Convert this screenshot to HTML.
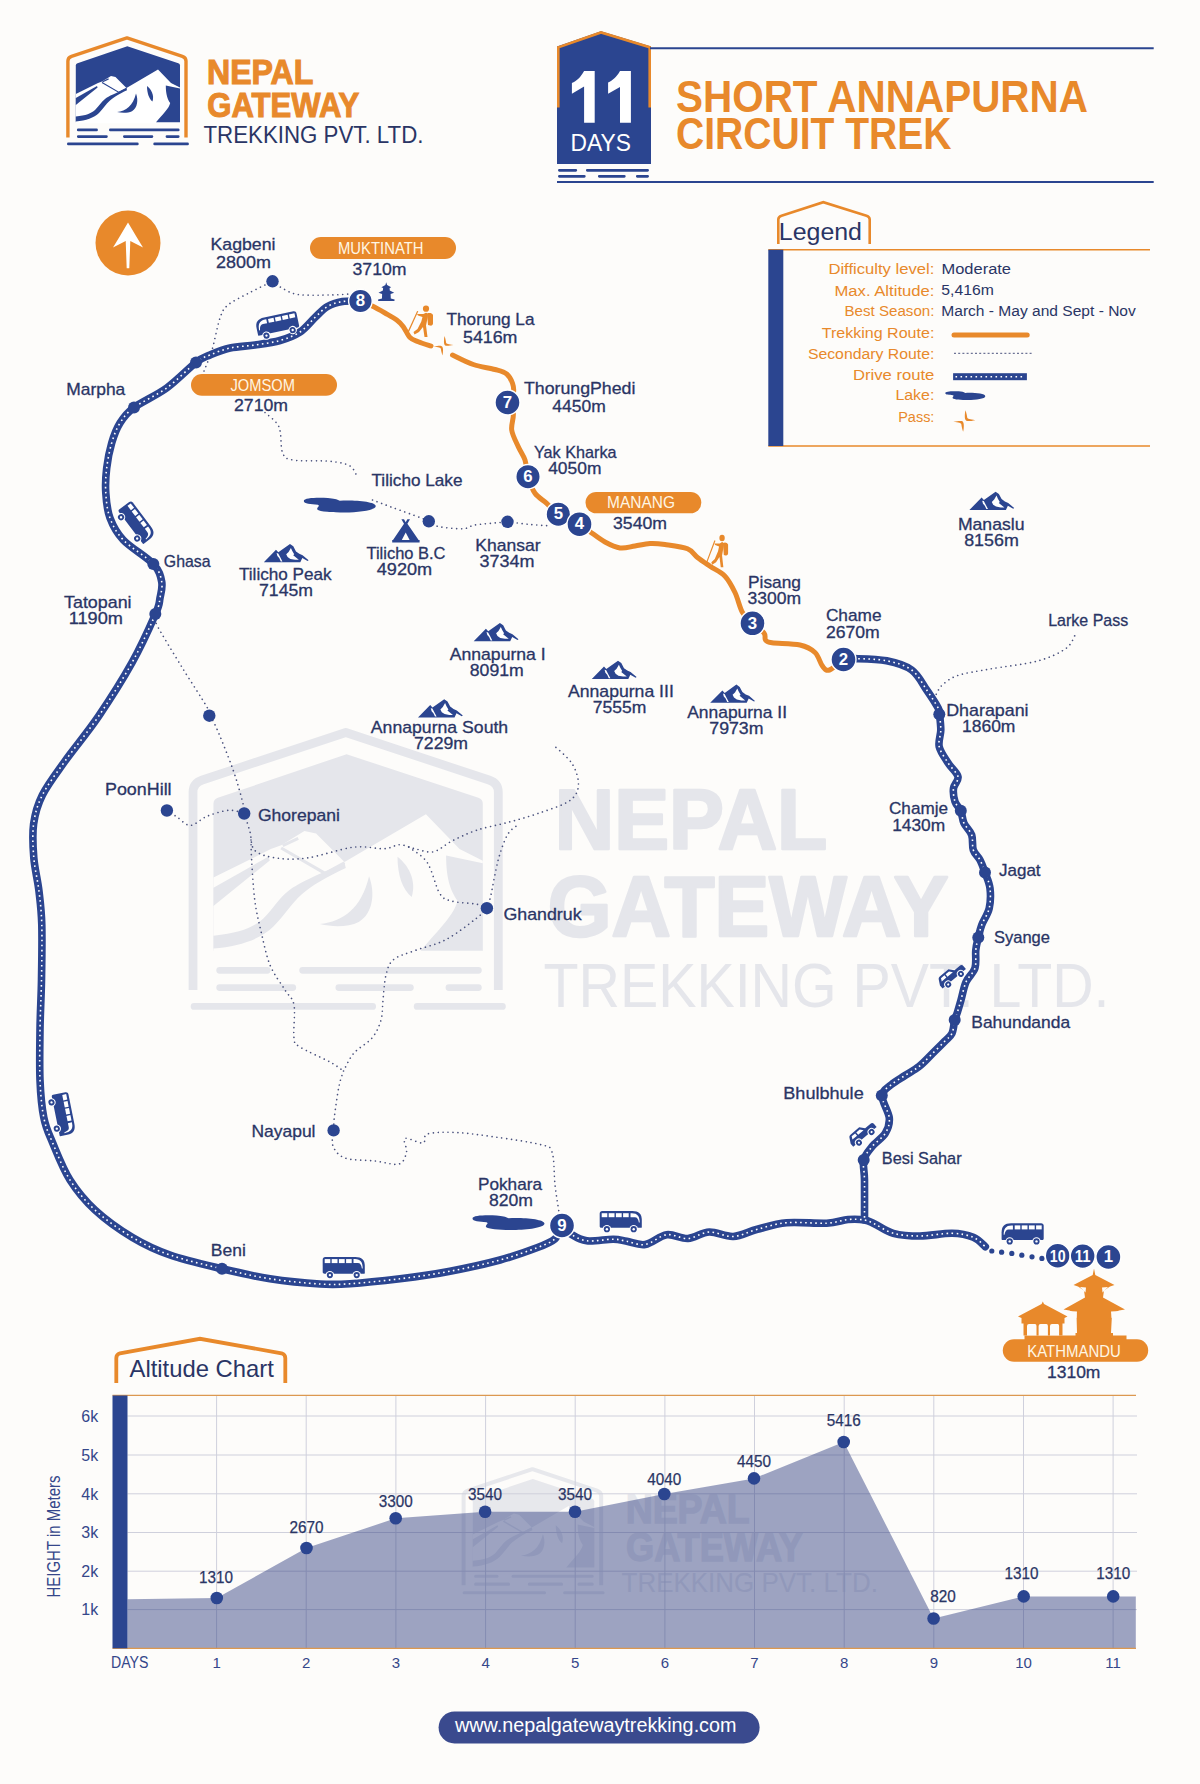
<!DOCTYPE html>
<html><head><meta charset="utf-8"><title>Short Annapurna Circuit Trek</title>
<style>html,body{margin:0;padding:0;background:#fdfcfa;}svg{display:block;}text{font-family:"Liberation Sans",sans-serif;}</style>
</head><body>
<svg width="1200" height="1784" viewBox="0 0 1200 1784" font-family="Liberation Sans, sans-serif">
<defs>

<g id="logoG">
 <path d="M67.9,137.5 V61 Q67.9,57.5 71.5,56.3 L127,37.9 L182.4,56.3 Q186,57.5 186,61 V137.5" fill="none" stroke="#e8892b" stroke-width="3.4" stroke-linejoin="round"/>
 <path d="M75.8,122.3 V65.5 Q75.8,63.8 77.5,63.2 L127.3,46.3 L178.3,63.2 Q180,63.8 180,65.5 V122.3 Z" fill="#2b4590"/>
 <path d="M75.8,94 L98,83 L102,81.5 L111,76 L115.5,77 L126.5,88 L158,69.5 L171,83 L180,87.5 V123.2 H75.8 Z" fill="#ffffff"/>
 <path d="M75.8,116.5 C86,115.5 91,113.5 95,110 C99,106 101,102 105,99 C109,96 115,93.5 126.5,88.3 L127,90.3 C119,94 114,97 110,100.5 C106,104 103,109 99,113 C94,118 86,120.5 75.8,121.5 Z" fill="#2b4590"/>
 <path d="M75.8,98 L97,86 L97.6,87.4 L75.8,105 Z" fill="#2b4590"/>
 <path d="M102,82.6 L119,92.4 L126.5,88.3 M102.6,81.7 L108.6,78.9" fill="none" stroke="#2b4590" stroke-width="1.2"/>
 <path d="M117,112 C126,111 133,106 136,93.5 C138.5,100 137.5,108 132,111.2 C128,113.2 122,113.2 117,112 Z" fill="#2b4590"/>
 <path d="M147,86 C151,89 154.5,95 152.5,101.5 C149,99 147,93 147,86 Z" fill="#2b4590"/>
 <path d="M165.8,85.5 L180,88.5 V122.3 H156 C163,114 169,108.5 170.2,103 C167.8,99.5 165.8,95 165.8,85.5 Z" fill="#2b4590"/>
 <g stroke="#2b4590" stroke-width="2.6" stroke-linecap="round">
  <path d="M78.2,129.9 H96.6 M110.3,129.9 H178.3 M78.2,136.6 H106.5 M124.3,136.6 H152 M166.9,136.6 H178.3 M68.3,143.9 H137.4 M154.6,143.9 H187.6"/>
 </g>
</g>

<g id="logoW">
<g id="logoWi">
 <path d="M67.9,137.5 V61 Q67.9,57.5 71.5,56.3 L127,37.9 L182.4,56.3 Q186,57.5 186,61 V137.5" fill="none" stroke="#e5e6eb" stroke-width="3.4" stroke-linejoin="round"/>
 <path d="M75.8,122.3 V65.5 Q75.8,63.8 77.5,63.2 L127.3,46.3 L178.3,63.2 Q180,63.8 180,65.5 V122.3 Z" fill="#e5e6eb"/>
 <path d="M75.8,94 L98,83 L102,81.5 L111,76 L115.5,77 L126.5,88 L158,69.5 L171,83 L180,87.5 V123.2 H75.8 Z" fill="#fdfcfa"/>
 <path d="M75.8,116.5 C86,115.5 91,113.5 95,110 C99,106 101,102 105,99 C109,96 115,93.5 126.5,88.3 L127,90.3 C119,94 114,97 110,100.5 C106,104 103,109 99,113 C94,118 86,120.5 75.8,121.5 Z" fill="#e5e6eb"/>
 <path d="M75.8,98 L97,86 L97.6,87.4 L75.8,105 Z" fill="#e5e6eb"/>
 <path d="M102,82.6 L119,92.4 L126.5,88.3 M102.6,81.7 L108.6,78.9" fill="none" stroke="#e5e6eb" stroke-width="1.2"/>
 <path d="M117,112 C126,111 133,106 136,93.5 C138.5,100 137.5,108 132,111.2 C128,113.2 122,113.2 117,112 Z" fill="#e5e6eb"/>
 <path d="M147,86 C151,89 154.5,95 152.5,101.5 C149,99 147,93 147,86 Z" fill="#e5e6eb"/>
 <path d="M165.8,85.5 L180,88.5 V122.3 H156 C163,114 169,108.5 170.2,103 C167.8,99.5 165.8,95 165.8,85.5 Z" fill="#e5e6eb"/>
 <g stroke="#e5e6eb" stroke-width="2.6" stroke-linecap="round">
  <path d="M78.2,129.9 H96.6 M110.3,129.9 H178.3 M78.2,136.6 H106.5 M124.3,136.6 H152 M166.9,136.6 H178.3 M68.3,143.9 H137.4 M154.6,143.9 H187.6"/>
 </g>
</g>
</g>

<g id="bus">
 <path d="M0.5,16.8 V9.5 C0.5,3.2 3.5,0.4 10,0.4 H40 C41.6,0.4 42.6,1.4 42.6,3 V15.6 C42.6,16.6 41.8,17.2 40.8,17.2 H1 Z" fill="#2b4590"/>
 <path d="M2.6,12 C2.6,6 4.5,2.6 10.5,2.6 H11.8 V6.6 H7.5 C5,6.6 4,8.5 3.4,12 Z" fill="#fff"/>
 <rect x="13.6" y="2.6" width="5.6" height="4" fill="#fff"/>
 <rect x="20.6" y="2.6" width="5.8" height="4" fill="#fff"/>
 <rect x="27.8" y="2.6" width="5.8" height="4" fill="#fff"/>
 <rect x="35" y="2.6" width="5.6" height="4" fill="#fff"/>
 <circle cx="8.6" cy="18.6" r="4.2" fill="#fff"/>
 <circle cx="35.4" cy="18.6" r="4.2" fill="#fff"/>
 <circle cx="8.6" cy="18.6" r="3.1" fill="#2b4590"/>
 <circle cx="35.4" cy="18.6" r="3.1" fill="#2b4590"/>
 <circle cx="8.6" cy="18.6" r="1.2" fill="#fff"/>
 <circle cx="35.4" cy="18.6" r="1.2" fill="#fff"/>
</g>
<g id="jeep">
 <path d="M0,9 L3,3.5 C3.5,2.5 4.5,2 6,2 H17 L21,6.5 H28 C29.5,6.5 30.5,7.5 30.5,9 V13 H0 Z" fill="#2b4590"/>
 <path d="M4,7 L5.5,4 H10 V7 Z M11.5,4 H16 L18.5,7 H11.5 Z" fill="#fff"/>
 <circle cx="7" cy="13.5" r="4" fill="#fff"/>
 <circle cx="23.5" cy="13.5" r="4" fill="#fff"/>
 <circle cx="7" cy="13.5" r="3" fill="#2b4590"/>
 <circle cx="23.5" cy="13.5" r="3" fill="#2b4590"/>
 <circle cx="7" cy="13.5" r="1.1" fill="#fff"/>
 <circle cx="23.5" cy="13.5" r="1.1" fill="#fff"/>
</g>
<g id="mtn">
 <path d="M0,18.4 L12.2,6 L14.5,8.5 L26.2,0.2 L29.5,2.5 L32.2,7.6 L35.5,10 L38.8,11.4 L44.8,16.5 L43.8,17.2 L38.5,14.2 L36.5,18.4 Z" fill="#2b4590"/>
 <path d="M27.1,4.1 L28.5,7.2 L30.4,10.4 L29.4,11.4 L35,16 L31.3,16 L26.6,15.1 L23.8,13.2 L22.4,10.4 L24.8,8.1 Z" fill="#fff"/>
 <path d="M12.8,9.2 L14.4,9.6 L16.6,13.8 L18.6,17.6 L17,17.6 L15.4,14.2 L13.6,12.2 Z" fill="#fff"/>
</g>
<g id="lake">
 <path d="M0,3.5 C0,0.3 14,0 24,0.6 C30,1 33,2 36,3.2 C50,2.4 72,4 72,8.6 C72,12.8 55,15 41,15 C29,15 15.5,14.2 13.5,12 C12.5,9.5 17,8.5 14,7.2 C7,6.5 0,6.5 0,3.5 Z" fill="#2b4590"/>
</g>
<g id="hiker">
 <circle cx="19.5" cy="3.2" r="3.1"/>
 <path d="M20.5,8 C23,7 25.5,7.5 26.5,9.5 L26.5,18 C26.5,19.5 25,20.5 23.5,20 L21.5,19.5 Z"/>
 <path d="M19.5,7.2 C21.8,7.6 21.6,10.5 21,13 L19.5,20 L21,31.5 L18,31.5 L16.5,21.5 L12.5,26.5 L8,29 L7,26.5 L11,23.5 L14.8,16 L16,11.5 L11.5,10 L10.5,8.6 L16.8,8.6 Z"/>
 <path d="M10.6,5.5 L11.8,5.8 L2.2,27 L1,26.5 Z"/>
</g>

</defs>
<rect width="1200" height="1784" fill="#fdfcfa"/>
<use href="#logoG"/>
 <text x="207" y="83.9" font-size="34.4" font-weight="bold" fill="#e8892b" stroke="#e8892b" stroke-width="1.1" textLength="106.4" lengthAdjust="spacingAndGlyphs">NEPAL</text>
 <text x="207.3" y="117.1" font-size="34.4" font-weight="bold" fill="#e8892b" stroke="#e8892b" stroke-width="1.1" textLength="151.9" lengthAdjust="spacingAndGlyphs">GATEWAY</text>
 <text x="203.5" y="143.2" font-size="23" fill="#2a3565" textLength="220" lengthAdjust="spacingAndGlyphs">TREKKING PVT. LTD.</text>

<g transform="translate(17.5,634.5) scale(2.585)"><use href="#logoWi"/></g>
<text x="554.8" y="848.7" font-size="84.5" font-weight="bold" fill="#e5e6eb" textLength="272.5" lengthAdjust="spacingAndGlyphs" stroke="#e5e6eb" stroke-width="2.6" stroke-linejoin="round">NEPAL</text>
<text x="547.8" y="935.6" font-size="84.5" font-weight="bold" fill="#e5e6eb" textLength="400.5" lengthAdjust="spacingAndGlyphs" stroke="#e5e6eb" stroke-width="2.6" stroke-linejoin="round">GATEWAY</text>
<text x="543.5" y="1006.8" font-size="63.3" fill="#e5e6eb" textLength="566" lengthAdjust="spacingAndGlyphs">TREKKING PVT. LTD.</text>
<path d="M557,164 V46.5 L601,31.2 L651,46.5 V164 Z" fill="#2b4590"/>
<path d="M558.3,107.5 V47.3 L601,32.4 L649.7,47.3 V107.5" fill="none" stroke="#e8892b" stroke-width="2.6"/>
<g stroke="#2b4590" stroke-width="2.8" stroke-linecap="round"><path d="M559.4,170.3 H575.8 M587.3,170.3 H647.6 M559.4,176.3 H584.3 M599.3,176.3 H624.3 M637.3,176.3 H647.6"/></g>
<path d="M650,48.3 H1153.7 M557,182 H1153.7" stroke="#2b4590" stroke-width="2"/>
<path d="M584.1,70.9 H594.7 V122.8 H584.1 V86.6 L571.9,93.8 V83.1 C576.5,80.7 580.5,77.5 584.1,70.9 Z M620,70.9 H630.9 V122.8 H620 V86.9 L608.1,93.8 V82.5 C612.6,80.2 616.6,77 620,70.9 Z" fill="#fff"/>
<text x="570.6" y="150.6" font-size="23.5" fill="#ffffff" textLength="60.4" lengthAdjust="spacingAndGlyphs">DAYS</text>
<text x="676" y="111.9" font-size="43.8" font-weight="bold" fill="#e8892b" textLength="412" lengthAdjust="spacingAndGlyphs">SHORT ANNAPURNA</text>
<text x="676" y="149.2" font-size="43.8" font-weight="bold" fill="#e8892b" textLength="275.5" lengthAdjust="spacingAndGlyphs">CIRCUIT TREK</text>
<path d="M778.3,244 V219.5 Q778.3,216.8 781.5,215.8 L823.3,202.2 L866.5,215.8 Q869.7,216.8 869.7,219.5 V244" fill="none" stroke="#e8892b" stroke-width="2.6"/>
<text x="778.8" y="239.7" font-size="23.3" fill="#2a3565" textLength="83.2" lengthAdjust="spacingAndGlyphs">Legend</text>
<path d="M768.3,249.7 H1150 M768.3,446 H1150" stroke="#e8892b" stroke-width="1.6"/>
<rect x="768.3" y="249.7" width="15" height="196.3" fill="#2b4590"/>
<text x="828.4" y="274.2" font-size="15.5" fill="#e8892b" textLength="106" lengthAdjust="spacingAndGlyphs">Difficulty level:</text>
<text x="834.5" y="295.5" font-size="15.5" fill="#e8892b" textLength="99.9" lengthAdjust="spacingAndGlyphs">Max. Altitude:</text>
<text x="844.5" y="316" font-size="15.5" fill="#e8892b" textLength="89.9" lengthAdjust="spacingAndGlyphs">Best Season:</text>
<text x="821.7" y="337.5" font-size="15.5" fill="#e8892b" textLength="112.7" lengthAdjust="spacingAndGlyphs">Trekking Route:</text>
<text x="807.9" y="358.5" font-size="15.5" fill="#e8892b" textLength="126.5" lengthAdjust="spacingAndGlyphs">Secondary Route:</text>
<text x="852.9" y="379.5" font-size="15.5" fill="#e8892b" textLength="81.5" lengthAdjust="spacingAndGlyphs">Drive route</text>
<text x="895.4" y="400" font-size="15.5" fill="#e8892b" textLength="39" lengthAdjust="spacingAndGlyphs">Lake:</text>
<text x="898.2" y="422.2" font-size="15.5" fill="#e8892b" textLength="36.2" lengthAdjust="spacingAndGlyphs">Pass:</text>
<text x="941.5" y="274.4" font-size="15.5" fill="#2a3565" textLength="69.5" lengthAdjust="spacingAndGlyphs">Moderate</text>
<text x="941.3" y="295.3" font-size="15.5" fill="#2a3565" textLength="52.5" lengthAdjust="spacingAndGlyphs">5,416m</text>
<text x="941.3" y="316" font-size="15.5" fill="#2a3565" textLength="194.5" lengthAdjust="spacingAndGlyphs">March - May and Sept - Nov</text>
<path d="M954,335.1 H1027.2" stroke="#e8892b" stroke-width="5" stroke-linecap="round"/>
<path d="M954,353.3 H1032" stroke="#4a527e" stroke-width="1" stroke-dasharray="2 2.2"/>
<rect x="953.1" y="373.2" width="73.8" height="7" fill="#2b4590"/>
<path d="M955.5,376.7 H1025" stroke="#fff" stroke-width="1.5" stroke-dasharray="1.6 3.4"/>
<g transform="translate(945.2,391) scale(0.557,0.6)"><use href="#lake"/></g>
<g transform="translate(964.3,421) scale(1)" fill="#e8892b"><path d="M1.2,-10.8 C2.2,-7.5 2.8,-5 2.9,-3.4 C3.3,-2 5.5,-1.6 11,-0.8 C7,0 4,0.3 2.5,-0.1 C0.9,-0.6 0.5,-2.5 0.5,-4.5 C0.5,-7 0.7,-9 1.2,-10.8 Z"/><path d="M-1.2,10.8 C-2.2,7.5 -2.8,5 -2.9,3.4 C-3.3,2 -5.5,1.6 -11,0.8 C-7,0 -4,-0.3 -2.5,0.1 C-0.9,0.6 -0.5,2.5 -0.5,4.5 C-0.5,7 -0.7,9 -1.2,10.8 Z"/></g>
<circle cx="128" cy="243" r="32.5" fill="#e8892b"/>
<path d="M128,222.5 L136,236 L143,247.5 L130.3,241 L129.3,268.3 H126.7 L125.7,241 L113,247.5 L120,236 Z" fill="#fff"/>
<g fill="none" stroke="#4a527e" stroke-width="1.65" stroke-linecap="round" stroke-dasharray="0.01 4.9">
<path d="M204,371 C205.3,367.5 209.3,358.8 212,350 C214.7,341.2 217.3,325.5 220,318 C222.7,310.5 223,309.2 228,305 C233,300.8 242.6,296.4 250,292.5 C257.4,288.6 268.8,283.2 272.5,281.3"/>
<path d="M272.5,281.3 C274.1,282.4 277.8,285.8 282,288 C286.2,290.2 290,293.3 298,294.5 C306,295.7 321.5,295.1 330,295 C338.5,294.9 345.8,294.2 349,294"/>
<path d="M265,412.5 C267.3,414.9 276.1,420.3 279,427 C281.9,433.7 280.2,447 282.5,452.5 C284.8,458 285.1,458.5 293,460 C300.9,461.5 320.5,460.3 330,461.3 C339.5,462.3 345.4,463.3 350,466 C354.6,468.7 356.2,475.6 357.5,477.5"/>
<path d="M372.5,500 C375.8,501.2 384.6,504.6 392.5,507.5 C400.4,510.4 413.9,515.2 420,517.5 C426.1,519.8 427.3,520.7 428.8,521.3"/>
<path d="M428.8,521.3 C430.2,522.1 431.9,525 437.5,526.3 C443.1,527.5 456.2,529 462.5,528.8 C468.8,528.6 468.8,526 475,525 C481.2,524 494.6,523 500,522.5 C505.4,522 506.2,521.9 507.5,521.8"/>
<path d="M507.5,521.8 C511.2,522.2 522.9,523.8 530,524.5 C537.1,525.2 546.7,525.6 550,525.8"/>
<path d="M155.1,614.3 C155.4,616.1 152.5,616.4 157,625.2 C161.5,634 173.6,653.5 182,667.3 C190.4,681 202.8,699.6 207.3,707.7 C211.9,715.8 207.9,712.6 209.3,715.7 C210.7,718.8 211.8,717.5 215.7,726.2 C219.6,735 228,755.6 232.5,768.2 C237,780.8 240.6,794.2 242.6,801.8 C244.6,809.4 244,811.6 244.3,813.6"/>
<path d="M166.9,810.3 C168.6,811.4 173.1,814.5 177,817 C180.9,819.5 185.4,825.5 190.5,825.4 C195.6,825.2 200.9,818.6 207.3,816.1 C213.7,813.6 222.9,810.7 229.1,810.3 C235.3,809.9 241.8,813 244.3,813.6"/>
<path d="M244.3,813.6 C245.2,816.6 248.3,825.7 250,831.8 C251.7,837.9 250.3,845.9 254.7,850.3 C259.1,854.7 267.6,856.7 276.3,858 C285,859.3 294.2,859.8 307,858 C319.8,856.2 340.4,848.8 353.3,847.2 C366.2,845.7 376.5,849.1 384.2,848.7 C391.9,848.3 394.5,844.7 399.6,844.7 C404.7,844.7 409.4,847.5 415,848.7 C420.6,849.9 427.3,853.1 433.5,851.8 C439.7,850.5 444.8,844.6 452,841 C459.2,837.4 467.4,833.3 476.7,830.2 C485.9,827.1 497.2,825.3 507.5,822.5 C517.8,819.7 528.1,816.9 538.4,813.3 C548.7,809.7 562.5,805.6 569.2,801 C575.9,796.4 577.9,791.7 578.4,785.5 C578.9,779.3 576.4,770.7 572.3,764 C568.2,757.3 556.9,748.5 553.8,745.4"/>
<path d="M408.8,847.2 C411.9,849.8 422.2,854.9 427.3,862.6 C432.4,870.3 435.6,887 439.7,893.4 C443.8,899.8 445.8,899.3 452,901.1 C458.2,902.9 470.9,903 476.7,904.2 C482.5,905.4 485.2,907.5 486.9,908.2"/>
<path d="M486.9,908.2 C487.5,906.2 488.7,904.6 490.6,896.5 C492.5,888.4 495.5,869.8 498.3,859.5 C501.1,849.2 504.4,840.4 507.5,834.8 C510.6,829.1 515.2,827.1 516.8,825.6"/>
<path d="M486.9,908.2 C485.2,909.9 483.5,912.9 476.7,918.1 C469.9,923.4 456.1,934.3 445.8,939.7 C435.5,945.1 423.7,947.2 415,950.5 C406.3,953.8 398.2,955.6 393.4,959.7 C388.6,963.8 387.7,968.3 386,975 C384.3,981.7 383.8,992.5 383,1000 C382.2,1007.5 382.8,1013.7 381,1020 C379.2,1026.3 376.5,1032.5 372,1038 C367.5,1043.5 358.8,1047.5 354,1053 C349.2,1058.5 345.2,1068 343.5,1071"/>
<path d="M251,840 C251.1,843.2 251,849.6 251.6,859.5 C252.2,869.4 253.2,887.8 254.7,899.6 C256.2,911.4 258.2,919.5 260.8,930.4 C263.4,941.3 266,955.1 270,965 C274,974.9 281,983.3 285,990 C289,996.7 292.5,997 294,1005 C295.5,1013 293,1031 294,1038 C295,1045 294,1043 300,1047 C306,1051 322.8,1058 330,1062 C337.2,1066 341.2,1069.5 343.5,1071"/>
<path d="M343.5,1071 C342.8,1073.5 340.5,1078.5 339,1086 C337.5,1093.5 335.4,1108.6 334.5,1116 C333.6,1123.4 333.8,1128 333.6,1130.4"/>
<path d="M333.6,1130.4 C333.5,1133 331.1,1141.4 333,1146 C334.9,1150.6 338,1155.5 345,1158 C352,1160.5 366,1160 375,1161 C384,1162 393.8,1165.5 399,1164 C404.2,1162.5 405.5,1156.2 406.5,1152 C407.5,1147.8 402.2,1140 405,1138.5 C407.8,1137 419.2,1143.8 423,1143 C426.8,1142.2 422,1135.8 427.5,1134 C433,1132.2 444.8,1132 456,1132.5 C467.2,1133 481,1135 495,1137 C509,1139 530.5,1142 540,1144.5 C549.5,1147 549.5,1145.2 552,1152 C554.5,1158.8 553.9,1175.2 555,1185 C556.1,1194.8 558.2,1206.7 558.8,1211"/>
<path d="M936.2,694.3 C937.2,692.7 938.8,688 942.5,684.8 C946.2,681.6 950.4,677.9 958.3,675.3 C966.2,672.7 976.8,671.4 990,669 C1003.2,666.6 1024.8,664.4 1037.5,661 C1050.2,657.6 1059.7,652.9 1066,648.4 C1072.3,643.9 1073.9,636.6 1075.5,634.2"/>
</g>
<g fill="none" stroke-linecap="round" stroke-linejoin="round">
<path d="M360.4,301 C357.4,301.1 348,300.6 342.5,301.5 C337,302.4 332.1,303.8 327.5,306.5 C322.9,309.2 319.6,313.2 315,317.5 C310.4,321.8 305.8,328.2 300,332 C294.2,335.8 287.5,338.3 280,340.5 C272.5,342.7 263.3,343.8 255,345 C246.7,346.2 237.5,346.3 230,348 C222.5,349.7 215.7,352.6 210,355 C204.3,357.4 203.2,357 196,362.5 C188.8,368 177,380.5 166.7,388 C156.4,395.5 141.8,401.7 134,407.5 C126.2,413.3 123.7,417.1 120,423 C116.3,428.9 113.9,435.5 111.7,443 C109.5,450.5 107.7,459.7 106.7,468 C105.7,476.3 105.2,484.7 105.8,493 C106.3,501.3 107.1,510.2 110,518 C112.9,525.8 116.1,532.3 123.3,540 C130.5,547.7 146.9,557 153.3,564 C159.7,571 160.6,576 161.7,581.7 C162.8,587.4 161,592.6 160,598 C159,603.4 160.2,603.2 155.5,614 C150.8,624.8 141.5,645.6 132,662.7 C122.5,679.8 109.6,700 98.4,716.5 C87.2,733 74.1,748.3 64.8,761.4 C55.5,774.5 47.6,784.6 42.4,795 C37.2,805.4 35,813.5 33.6,824 C32.2,834.5 32.9,846.5 33.8,857.7 C34.7,868.9 37.7,880.1 39,891.3 C40.3,902.5 41.4,910.2 41.8,925 C42.2,939.8 41.8,962.5 41.5,980 C41.2,997.5 40.2,1013.3 40,1030 C39.8,1046.7 39.4,1065.4 40,1080 C40.6,1094.6 41.7,1107.1 43.8,1117.5 C45.8,1127.9 48.1,1132.1 52.5,1142.5 C56.9,1152.9 62.9,1168.8 70,1180 C77.1,1191.2 84.6,1200.4 95,1210 C105.4,1219.6 120,1230 132.5,1237.5 C145,1245 155.1,1249.8 170,1255 C184.9,1260.2 205.3,1264.8 222,1268.8 C238.7,1272.7 253.7,1276.2 270,1278.8 C286.3,1281.3 306.7,1283.2 320,1284 C333.3,1284.8 336.7,1284.6 350,1283.8 C363.3,1282.9 383.3,1280.8 400,1278.8 C416.7,1276.7 433.3,1274.4 450,1271.2 C466.7,1268.1 485.4,1264 500,1260 C514.6,1256 528.3,1251 537.5,1247.5 C546.7,1244 550.9,1242.4 555,1238.8 C559.1,1235.1 560.8,1227.7 562,1225.5" stroke="#2b4590" stroke-width="7.6"/>
<path d="M562,1225.5 C563.5,1226.9 566.6,1231.5 570.7,1234 C574.8,1236.5 579.6,1239.9 586.7,1240.8 C593.8,1241.7 606.6,1239.1 613.3,1239.2 C620,1239.3 621.4,1240.4 626.7,1241.3 C632,1242.2 638.6,1245.6 645.3,1244.5 C652,1243.4 659.6,1235.7 666.7,1234.7 C673.8,1233.7 680.9,1239 688,1238.5 C695.1,1238 701.8,1232.3 709.3,1232 C716.8,1231.7 725.3,1237 733.3,1236.5 C741.3,1236 748.4,1231.6 757.3,1229.3 C766.2,1227 775.1,1223.7 786.7,1222.7 C798.3,1221.7 816.5,1223.7 826.7,1223.2 C836.9,1222.7 841.7,1220 848,1219.5 C854.3,1219 860,1219.2 864.5,1220 C869,1220.8 869.9,1221.8 874.7,1224 C879.5,1226.2 885.8,1231.3 893.3,1233.3 C900.8,1235.3 910.2,1236 920,1236 C929.8,1236 943.1,1233.1 952,1233.3 C960.9,1233.5 967.8,1235.1 973.3,1237.3 C978.8,1239.5 983.3,1245.1 985.3,1246.7" stroke="#2b4590" stroke-width="7.6"/>
<path d="M843.5,659.5 C845.4,659.4 847.8,658.4 855,658.6 C862.2,658.8 877.2,658.9 886.7,660.8 C896.2,662.7 905,665.1 911.7,670 C918.4,674.9 922.3,683.6 926.7,690 C931.1,696.4 936.2,704.3 938.3,708.3 C940.4,712.3 939.1,710.6 939.5,714.2 C939.9,717.8 940.8,724.6 940.8,730 C940.8,735.4 938,741.2 939.2,746.7 C940.5,752.2 945.2,758.3 948.3,763.3 C951.4,768.3 957.1,772.5 958,776.7 C958.9,780.9 954,784.1 953.5,788.3 C953,792.5 953.8,798 955,801.7 C956.2,805.5 959.3,807.2 960.8,810.8 C962.3,814.4 962.2,819.3 964,823.3 C965.8,827.3 970.2,830.5 971.7,835 C973.2,839.5 971.9,845.8 973.3,850 C974.7,854.2 978,856.2 980,860 C982,863.8 983.3,867.8 985,872.5 C986.7,877.2 989.3,882.3 990,888.3 C990.7,894.3 990.6,902.2 989.2,908.3 C987.8,914.4 983.5,920.1 981.7,925 C979.9,929.9 979.3,933.3 978.3,937.5 C977.3,941.7 976.3,944.9 975.8,950 C975.2,955.1 976.6,962.7 975,968 C973.4,973.3 968.3,976.7 966,982 C963.7,987.3 962.4,995 961,1000 C959.6,1005 958.5,1008.7 957.5,1012 C956.5,1015.3 955.6,1016.5 954.7,1020 C953.8,1023.5 953.7,1029.7 952,1033.3 C950.3,1036.9 948,1037.9 944.5,1041.5 C941,1045.1 935.2,1050.8 931,1055 C926.8,1059.2 923.3,1063.1 919,1066.5 C914.7,1069.9 909.6,1072.5 905,1075.5 C900.4,1078.5 895.3,1081.2 891.5,1084.5 C887.7,1087.8 882.4,1089.9 882,1095.5 C881.6,1101.1 888.8,1111.7 889.3,1118 C889.8,1124.3 888.2,1128.5 885.3,1133.3 C882.4,1138.1 875.6,1142.2 872,1146.7 C868.4,1151.2 865,1154.5 863.8,1160 C862.5,1165.5 864.4,1170 864.5,1180 C864.6,1190 864.5,1213.3 864.5,1220" stroke="#2b4590" stroke-width="7.6"/>
<path d="M360.4,301 C357.4,301.1 348,300.6 342.5,301.5 C337,302.4 332.1,303.8 327.5,306.5 C322.9,309.2 319.6,313.2 315,317.5 C310.4,321.8 305.8,328.2 300,332 C294.2,335.8 287.5,338.3 280,340.5 C272.5,342.7 263.3,343.8 255,345 C246.7,346.2 237.5,346.3 230,348 C222.5,349.7 215.7,352.6 210,355 C204.3,357.4 203.2,357 196,362.5 C188.8,368 177,380.5 166.7,388 C156.4,395.5 141.8,401.7 134,407.5 C126.2,413.3 123.7,417.1 120,423 C116.3,428.9 113.9,435.5 111.7,443 C109.5,450.5 107.7,459.7 106.7,468 C105.7,476.3 105.2,484.7 105.8,493 C106.3,501.3 107.1,510.2 110,518 C112.9,525.8 116.1,532.3 123.3,540 C130.5,547.7 146.9,557 153.3,564 C159.7,571 160.6,576 161.7,581.7 C162.8,587.4 161,592.6 160,598 C159,603.4 160.2,603.2 155.5,614 C150.8,624.8 141.5,645.6 132,662.7 C122.5,679.8 109.6,700 98.4,716.5 C87.2,733 74.1,748.3 64.8,761.4 C55.5,774.5 47.6,784.6 42.4,795 C37.2,805.4 35,813.5 33.6,824 C32.2,834.5 32.9,846.5 33.8,857.7 C34.7,868.9 37.7,880.1 39,891.3 C40.3,902.5 41.4,910.2 41.8,925 C42.2,939.8 41.8,962.5 41.5,980 C41.2,997.5 40.2,1013.3 40,1030 C39.8,1046.7 39.4,1065.4 40,1080 C40.6,1094.6 41.7,1107.1 43.8,1117.5 C45.8,1127.9 48.1,1132.1 52.5,1142.5 C56.9,1152.9 62.9,1168.8 70,1180 C77.1,1191.2 84.6,1200.4 95,1210 C105.4,1219.6 120,1230 132.5,1237.5 C145,1245 155.1,1249.8 170,1255 C184.9,1260.2 205.3,1264.8 222,1268.8 C238.7,1272.7 253.7,1276.2 270,1278.8 C286.3,1281.3 306.7,1283.2 320,1284 C333.3,1284.8 336.7,1284.6 350,1283.8 C363.3,1282.9 383.3,1280.8 400,1278.8 C416.7,1276.7 433.3,1274.4 450,1271.2 C466.7,1268.1 485.4,1264 500,1260 C514.6,1256 528.3,1251 537.5,1247.5 C546.7,1244 550.9,1242.4 555,1238.8 C559.1,1235.1 560.8,1227.7 562,1225.5" stroke="#fff" stroke-width="1.6" stroke-linecap="butt" stroke-dasharray="1.6 3.4"/>
<path d="M562,1225.5 C563.5,1226.9 566.6,1231.5 570.7,1234 C574.8,1236.5 579.6,1239.9 586.7,1240.8 C593.8,1241.7 606.6,1239.1 613.3,1239.2 C620,1239.3 621.4,1240.4 626.7,1241.3 C632,1242.2 638.6,1245.6 645.3,1244.5 C652,1243.4 659.6,1235.7 666.7,1234.7 C673.8,1233.7 680.9,1239 688,1238.5 C695.1,1238 701.8,1232.3 709.3,1232 C716.8,1231.7 725.3,1237 733.3,1236.5 C741.3,1236 748.4,1231.6 757.3,1229.3 C766.2,1227 775.1,1223.7 786.7,1222.7 C798.3,1221.7 816.5,1223.7 826.7,1223.2 C836.9,1222.7 841.7,1220 848,1219.5 C854.3,1219 860,1219.2 864.5,1220 C869,1220.8 869.9,1221.8 874.7,1224 C879.5,1226.2 885.8,1231.3 893.3,1233.3 C900.8,1235.3 910.2,1236 920,1236 C929.8,1236 943.1,1233.1 952,1233.3 C960.9,1233.5 967.8,1235.1 973.3,1237.3 C978.8,1239.5 983.3,1245.1 985.3,1246.7" stroke="#fff" stroke-width="1.6" stroke-linecap="butt" stroke-dasharray="1.6 3.4"/>
<path d="M843.5,659.5 C845.4,659.4 847.8,658.4 855,658.6 C862.2,658.8 877.2,658.9 886.7,660.8 C896.2,662.7 905,665.1 911.7,670 C918.4,674.9 922.3,683.6 926.7,690 C931.1,696.4 936.2,704.3 938.3,708.3 C940.4,712.3 939.1,710.6 939.5,714.2 C939.9,717.8 940.8,724.6 940.8,730 C940.8,735.4 938,741.2 939.2,746.7 C940.5,752.2 945.2,758.3 948.3,763.3 C951.4,768.3 957.1,772.5 958,776.7 C958.9,780.9 954,784.1 953.5,788.3 C953,792.5 953.8,798 955,801.7 C956.2,805.5 959.3,807.2 960.8,810.8 C962.3,814.4 962.2,819.3 964,823.3 C965.8,827.3 970.2,830.5 971.7,835 C973.2,839.5 971.9,845.8 973.3,850 C974.7,854.2 978,856.2 980,860 C982,863.8 983.3,867.8 985,872.5 C986.7,877.2 989.3,882.3 990,888.3 C990.7,894.3 990.6,902.2 989.2,908.3 C987.8,914.4 983.5,920.1 981.7,925 C979.9,929.9 979.3,933.3 978.3,937.5 C977.3,941.7 976.3,944.9 975.8,950 C975.2,955.1 976.6,962.7 975,968 C973.4,973.3 968.3,976.7 966,982 C963.7,987.3 962.4,995 961,1000 C959.6,1005 958.5,1008.7 957.5,1012 C956.5,1015.3 955.6,1016.5 954.7,1020 C953.8,1023.5 953.7,1029.7 952,1033.3 C950.3,1036.9 948,1037.9 944.5,1041.5 C941,1045.1 935.2,1050.8 931,1055 C926.8,1059.2 923.3,1063.1 919,1066.5 C914.7,1069.9 909.6,1072.5 905,1075.5 C900.4,1078.5 895.3,1081.2 891.5,1084.5 C887.7,1087.8 882.4,1089.9 882,1095.5 C881.6,1101.1 888.8,1111.7 889.3,1118 C889.8,1124.3 888.2,1128.5 885.3,1133.3 C882.4,1138.1 875.6,1142.2 872,1146.7 C868.4,1151.2 865,1154.5 863.8,1160 C862.5,1165.5 864.4,1170 864.5,1180 C864.6,1190 864.5,1213.3 864.5,1220" stroke="#fff" stroke-width="1.6" stroke-linecap="butt" stroke-dasharray="1.6 3.4"/>
</g>
<circle cx="991.8" cy="1251" r="2.6" fill="#2b4590"/>
<circle cx="1001.6" cy="1252.2" r="2.6" fill="#2b4590"/>
<circle cx="1011.8" cy="1253.4" r="2.6" fill="#2b4590"/>
<circle cx="1021.8" cy="1255.2" r="2.6" fill="#2b4590"/>
<circle cx="1032" cy="1256.8" r="2.6" fill="#2b4590"/>
<circle cx="1041.9" cy="1258.4" r="2.6" fill="#2b4590"/>
<circle cx="196" cy="362.5" r="6" fill="#2b4590"/>
<circle cx="134" cy="407.5" r="6" fill="#2b4590"/>
<circle cx="153.3" cy="564" r="6" fill="#2b4590"/>
<circle cx="155.3" cy="614" r="6" fill="#2b4590"/>
<circle cx="222" cy="1268.7" r="6" fill="#2b4590"/>
<circle cx="939.3" cy="714.2" r="6" fill="#2b4590"/>
<circle cx="960.8" cy="810.8" r="6" fill="#2b4590"/>
<circle cx="985" cy="872.5" r="6" fill="#2b4590"/>
<circle cx="978.3" cy="937.5" r="6" fill="#2b4590"/>
<circle cx="954.7" cy="1020" r="6" fill="#2b4590"/>
<circle cx="881.8" cy="1095.5" r="6" fill="#2b4590"/>
<circle cx="863.7" cy="1160" r="6" fill="#2b4590"/>
<g fill="none" stroke="#e8892b" stroke-width="5" stroke-linecap="round" stroke-linejoin="round">
<path d="M360.4,301 C362.3,301.8 367.6,303.8 371.7,305.8 C375.8,307.8 380.8,310.6 385,313 C389.2,315.4 393.6,317.7 396.7,320 C399.8,322.3 401.1,323.8 403.3,326.7 C405.5,329.6 407.5,335 410,337.5 C412.5,340 414.8,340.3 418.3,341.7 C421.8,343.1 428.9,345.3 431,346"/>
<path d="M452.5,355 C456,356.6 466.2,362.1 473.3,364.5 C480.4,366.9 489.4,367.9 495,369.5 C500.6,371.1 503.8,371.7 506.7,374 C509.6,376.3 511.4,380.1 512.5,383.3 C513.6,386.5 514.1,390.1 513.3,393.3 C512.5,396.5 507.5,399.2 507.5,402.5 C507.5,405.8 512.6,408.7 513.3,413.3 C514,417.9 510.9,424.4 511.7,430 C512.5,435.6 516.1,441.7 518.3,446.7 C520.5,451.7 523.4,455 525,460 C526.6,465 526.3,471.1 528,476.7 C529.7,482.2 531.9,488.9 535,493.3 C538.1,497.7 542.8,499.8 546.7,503.3 C550.6,506.8 552.8,510.7 558.3,514.2 C563.8,517.7 574.2,521.3 579.5,524.2 C584.8,527.1 585.8,528.7 590,531.7 C594.2,534.7 600,539.3 605,542 C610,544.7 615,547.3 620,548 C625,548.7 630,546.8 635,546 C640,545.2 645,543.8 650,543.5 C655,543.2 658.8,543.6 665,544.5 C671.2,545.4 682.1,546.6 687.5,548.8 C692.9,550.9 693.8,554.6 697.5,557.5 C701.2,560.4 705.4,563.1 710,566.2 C714.6,569.4 720.8,571.9 725,576.2 C729.2,580.6 732.1,586.5 735,592.5 C737.9,598.5 739.6,607.4 742.5,612.5 C745.4,617.6 748.9,619.8 752.5,623.2 C756.1,626.7 761.8,630.2 764,633 C766.2,635.8 764.2,638.4 765.5,640 C766.8,641.6 766.2,642 772,642.8 C777.8,643.6 792.8,643.4 800,645 C807.2,646.6 811.2,649 815,652.5 C818.8,656 820.1,663.3 822.5,666.2 C824.9,669.2 826,671.1 829.5,670 C833,668.9 841.2,661.2 843.5,659.5"/>
</g>
<g transform="translate(443.5,345.8) scale(0.9)" fill="#e8892b"><path d="M1.2,-10.8 C2.2,-7.5 2.8,-5 2.9,-3.4 C3.3,-2 5.5,-1.6 11,-0.8 C7,0 4,0.3 2.5,-0.1 C0.9,-0.6 0.5,-2.5 0.5,-4.5 C0.5,-7 0.7,-9 1.2,-10.8 Z"/><path d="M-1.2,10.8 C-2.2,7.5 -2.8,5 -2.9,3.4 C-3.3,2 -5.5,1.6 -11,0.8 C-7,0 -4,-0.3 -2.5,0.1 C-0.9,0.6 -0.5,2.5 -0.5,4.5 C-0.5,7 -0.7,9 -1.2,10.8 Z"/></g>
<circle cx="272.5" cy="281.3" r="6.2" fill="#2b4590"/>
<circle cx="428.8" cy="521.3" r="6.2" fill="#2b4590"/>
<circle cx="507.5" cy="521.8" r="6.2" fill="#2b4590"/>
<circle cx="209.3" cy="715.7" r="6.2" fill="#2b4590"/>
<circle cx="166.9" cy="810.5" r="6.2" fill="#2b4590"/>
<circle cx="244.2" cy="813.5" r="6.2" fill="#2b4590"/>
<circle cx="486.9" cy="908.2" r="6.2" fill="#2b4590"/>
<circle cx="333.6" cy="1130.4" r="6.2" fill="#2b4590"/>
<circle cx="360.4" cy="301" r="11.8" fill="#2b4590" stroke="#fff" stroke-width="1.4"/>
<text x="360.4" y="306.2" font-size="16.8" font-weight="bold" text-anchor="middle" fill="#fff">8</text>
<circle cx="507.5" cy="402.5" r="12.5" fill="#2b4590" stroke="#fff" stroke-width="1.4"/>
<text x="507.5" y="407.7" font-size="16.8" font-weight="bold" text-anchor="middle" fill="#fff">7</text>
<circle cx="528" cy="476.7" r="12.2" fill="#2b4590" stroke="#fff" stroke-width="1.4"/>
<text x="528" y="481.9" font-size="16.8" font-weight="bold" text-anchor="middle" fill="#fff">6</text>
<circle cx="558.3" cy="514.2" r="12.2" fill="#2b4590" stroke="#fff" stroke-width="1.4"/>
<text x="558.3" y="519.4" font-size="16.8" font-weight="bold" text-anchor="middle" fill="#fff">5</text>
<circle cx="579.5" cy="524.2" r="12.5" fill="#2b4590" stroke="#fff" stroke-width="1.4"/>
<text x="579.5" y="529.4" font-size="16.8" font-weight="bold" text-anchor="middle" fill="#fff">4</text>
<circle cx="752.5" cy="623.3" r="12.5" fill="#2b4590" stroke="#fff" stroke-width="1.4"/>
<text x="752.5" y="628.5" font-size="16.8" font-weight="bold" text-anchor="middle" fill="#fff">3</text>
<circle cx="843.5" cy="659.5" r="12.5" fill="#2b4590" stroke="#fff" stroke-width="1.4"/>
<text x="843.5" y="664.7" font-size="16.8" font-weight="bold" text-anchor="middle" fill="#fff">2</text>
<circle cx="562" cy="1225.5" r="12.5" fill="#2b4590" stroke="#fff" stroke-width="1.4"/>
<text x="562" y="1230.7" font-size="16.8" font-weight="bold" text-anchor="middle" fill="#fff">9</text>
<circle cx="1057.7" cy="1255.8" r="12.4" fill="#2b4590" stroke="#fff" stroke-width="1.4"/>
<text x="1049.8" y="1261.5" font-size="16.8" font-weight="bold" fill="#fff" textLength="15.8" lengthAdjust="spacingAndGlyphs">10</text>
<circle cx="1082.7" cy="1256.1" r="12.4" fill="#2b4590" stroke="#fff" stroke-width="1.4"/>
<text x="1074.8" y="1261.8" font-size="16.8" font-weight="bold" fill="#fff" textLength="15.8" lengthAdjust="spacingAndGlyphs">11</text>
<circle cx="1108.4" cy="1257" r="12.5" fill="#2b4590" stroke="#fff" stroke-width="1.4"/>
<text x="1108.4" y="1262.2" font-size="16.8" font-weight="bold" text-anchor="middle" fill="#fff">1</text>
<g transform="translate(277.5,325.5) rotate(-12) translate(-21.5,-11)"><use href="#bus"/></g>
<g transform="translate(135.5,523.7) rotate(53) scale(-1,1) translate(-21.5,-11)"><use href="#bus"/></g>
<g transform="translate(61.7,1114.5) rotate(78.6) scale(-1,1) translate(-21.5,-11)"><use href="#bus"/></g>
<g transform="translate(343.8,1267.5) scale(-1,1) translate(-21.5,-11)"><use href="#bus"/></g>
<g transform="translate(620.8,1221.6) scale(-1,1) translate(-21.5,-11)"><use href="#bus"/></g>
<g transform="translate(1022.6,1233.8) translate(-21.5,-11)"><use href="#bus"/></g>
<g transform="translate(862,1133.5) rotate(-40) translate(-15.2,-8.5)"><use href="#jeep"/></g>
<g transform="translate(951.3,975.4) rotate(-40) translate(-15.2,-8.5)"><use href="#jeep"/></g>
<g transform="translate(969.4,491.5)"><use href="#mtn"/></g>
<g transform="translate(263.8,543.8)"><use href="#mtn"/></g>
<g transform="translate(473.7,622.8)"><use href="#mtn"/></g>
<g transform="translate(591.8,660.6)"><use href="#mtn"/></g>
<g transform="translate(710.2,684.4)"><use href="#mtn"/></g>
<g transform="translate(418,699)"><use href="#mtn"/></g>
<g transform="translate(303.8,497.5)"><use href="#lake"/></g>
<g transform="translate(472.5,1215)"><use href="#lake"/></g>
<g transform="translate(406.5,305.5)" fill="#e8892b"><use href="#hiker"/></g>
<g transform="translate(705.3,534.6) scale(0.86,1.04)" fill="#e8892b"><use href="#hiker"/></g>
<path d="M386.2,282.2 L387.1,285 L391.2,287.3 L389.6,288.1 L389.8,290.6 L394.2,292.7 L390.6,294 L390.8,298.6 L394.6,299.6 L394.4,300.9 L378.2,300.9 L378.1,299.6 L382,298.6 L382.1,294 L378.5,292.7 L382.9,290.6 L383.1,288.1 L381.4,287.3 L385.4,285 Z" fill="#2b4590"/>
<path d="M401.4,519.2 L404,519.2 L405.7,522.2 L407.4,519.2 L410,519.2 L407.4,523.8 L418.6,540 H419.6 V542.6 H392.2 V540 H393 L404,523.8 Z M405.7,532.6 L409.6,540 H401.8 Z" fill="#2b4590" fill-rule="evenodd"/>
<rect x="310" y="237.1" width="146" height="21.9" rx="10.9" fill="#e8892b"/>
<text x="338" y="253.8" font-size="16.5" fill="#fff6e4" textLength="85.5" lengthAdjust="spacingAndGlyphs">MUKTINATH</text>
<rect x="191" y="374" width="146" height="21.8" rx="10.9" fill="#e8892b"/>
<text x="230.5" y="390.5" font-size="16.5" fill="#fff6e4" textLength="64.5" lengthAdjust="spacingAndGlyphs">JOMSOM</text>
<rect x="585.5" y="492" width="115.8" height="21.3" rx="10.7" fill="#e8892b"/>
<text x="607" y="508" font-size="16.5" fill="#fff6e4" textLength="68" lengthAdjust="spacingAndGlyphs">MANANG</text>
<rect x="1002.8" y="1339.3" width="145.4" height="22.5" rx="11.2" fill="#e8892b"/>
<text x="1027.3" y="1356.8" font-size="15.8" fill="#fff6e4" textLength="93.5" lengthAdjust="spacingAndGlyphs">KATHMANDU</text>
<g fill="#e8892b">
<path d="M1094,1268.5 L1095.3,1275 L1114.5,1285 L1110,1286.5 L1104,1290.5 L1103,1297.5 L1125,1309.5 L1119,1310.5 L1112,1314 L1111,1333 L1113,1333 V1335.5 L1126.5,1335.5 V1340 H1024.5 V1335.5 H1075.5 V1333 H1077 L1076.5,1314 L1069.5,1310.5 L1063.5,1309.5 L1085,1297.5 L1084,1290.5 L1078,1286.5 L1073.5,1285 L1092.7,1275 Z"/>
<path d="M1042.8,1301.5 L1044,1304 L1067.5,1316.5 L1064.5,1318 V1323.5 H1062.5 V1335.5 H1023.5 V1323.5 H1021.5 V1318 L1018,1316.5 L1041.6,1304 Z"/>
</g>
<g fill="#fdfcfa"><path d="M1027,1335.5 V1326 Q1027,1324 1029,1324 H1035 Q1036.5,1324 1036.5,1326 V1335.5 Z M1038.6,1335.5 V1326 Q1038.6,1324 1040.6,1324 H1046.4 Q1047.9,1324 1047.9,1326 V1335.5 Z M1050,1335.5 V1326 Q1050,1324 1052,1324 H1057.6 Q1059.1,1324 1059.1,1326 V1335.5 Z M1080,1287 L1086,1287.5 L1085.5,1292.5 Z M1108,1287 L1102,1287.5 L1102.5,1292.5 Z M1068,1311 L1077,1311.5 L1076.5,1318 Z M1120,1311 L1111,1311.5 L1111.5,1318 Z"/></g>
<g stroke="#2a3565" stroke-width="0.3">
<text x="210.5" y="250" font-size="17" fill="#2a3565" textLength="65" lengthAdjust="spacingAndGlyphs">Kagbeni</text>
<text x="216" y="267.5" font-size="17" fill="#2a3565" textLength="55" lengthAdjust="spacingAndGlyphs">2800m</text>
<text x="352.5" y="274.6" font-size="17" fill="#2a3565" textLength="54" lengthAdjust="spacingAndGlyphs">3710m</text>
<text x="446.5" y="325" font-size="17" fill="#2a3565" textLength="88" lengthAdjust="spacingAndGlyphs">Thorung La</text>
<text x="463" y="342.8" font-size="17" fill="#2a3565" textLength="54.4" lengthAdjust="spacingAndGlyphs">5416m</text>
<text x="524" y="394.2" font-size="17" fill="#2a3565" textLength="111.4" lengthAdjust="spacingAndGlyphs">ThorungPhedi</text>
<text x="552.3" y="411.7" font-size="17" fill="#2a3565" textLength="53.4" lengthAdjust="spacingAndGlyphs">4450m</text>
<text x="534" y="457.5" font-size="17" fill="#2a3565" textLength="82.6" lengthAdjust="spacingAndGlyphs">Yak Kharka</text>
<text x="548.2" y="473.8" font-size="17" fill="#2a3565" textLength="53.2" lengthAdjust="spacingAndGlyphs">4050m</text>
<text x="613" y="528.5" font-size="17" fill="#2a3565" textLength="54" lengthAdjust="spacingAndGlyphs">3540m</text>
<text x="66.3" y="395" font-size="17" fill="#2a3565" textLength="59" lengthAdjust="spacingAndGlyphs">Marpha</text>
<text x="234" y="411" font-size="17" fill="#2a3565" textLength="54" lengthAdjust="spacingAndGlyphs">2710m</text>
<text x="371.5" y="486.3" font-size="17" fill="#2a3565" textLength="91" lengthAdjust="spacingAndGlyphs">Tilicho Lake</text>
<text x="366.5" y="558.8" font-size="17" fill="#2a3565" textLength="79" lengthAdjust="spacingAndGlyphs">Tilicho B.C</text>
<text x="376.8" y="575" font-size="17" fill="#2a3565" textLength="55.4" lengthAdjust="spacingAndGlyphs">4920m</text>
<text x="475.2" y="551.2" font-size="17" fill="#2a3565" textLength="65.4" lengthAdjust="spacingAndGlyphs">Khansar</text>
<text x="479.4" y="567.3" font-size="17" fill="#2a3565" textLength="55" lengthAdjust="spacingAndGlyphs">3734m</text>
<text x="163.8" y="567.2" font-size="17" fill="#2a3565" textLength="46.8" lengthAdjust="spacingAndGlyphs">Ghasa</text>
<text x="64" y="607.5" font-size="17" fill="#2a3565" textLength="67.6" lengthAdjust="spacingAndGlyphs">Tatopani</text>
<text x="68.7" y="624.2" font-size="17" fill="#2a3565" textLength="54.2" lengthAdjust="spacingAndGlyphs">1190m</text>
<text x="239" y="579.5" font-size="17" fill="#2a3565" textLength="92.6" lengthAdjust="spacingAndGlyphs">Tilicho Peak</text>
<text x="259" y="596.3" font-size="17" fill="#2a3565" textLength="54" lengthAdjust="spacingAndGlyphs">7145m</text>
<text x="748" y="587.5" font-size="17" fill="#2a3565" textLength="53" lengthAdjust="spacingAndGlyphs">Pisang</text>
<text x="747.5" y="603.8" font-size="17" fill="#2a3565" textLength="53.6" lengthAdjust="spacingAndGlyphs">3300m</text>
<text x="825.9" y="620.9" font-size="17" fill="#2a3565" textLength="55.6" lengthAdjust="spacingAndGlyphs">Chame</text>
<text x="825.9" y="638" font-size="17" fill="#2a3565" textLength="53.8" lengthAdjust="spacingAndGlyphs">2670m</text>
<text x="957.9" y="529.7" font-size="17" fill="#2a3565" textLength="66.6" lengthAdjust="spacingAndGlyphs">Manaslu</text>
<text x="964.2" y="546.4" font-size="17" fill="#2a3565" textLength="54.6" lengthAdjust="spacingAndGlyphs">8156m</text>
<text x="1048.2" y="626.2" font-size="17" fill="#2a3565" textLength="80" lengthAdjust="spacingAndGlyphs">Larke Pass</text>
<text x="449.7" y="659.5" font-size="17" fill="#2a3565" textLength="96" lengthAdjust="spacingAndGlyphs">Annapurna I</text>
<text x="469.8" y="676" font-size="17" fill="#2a3565" textLength="54" lengthAdjust="spacingAndGlyphs">8091m</text>
<text x="568" y="696.5" font-size="17" fill="#2a3565" textLength="105.8" lengthAdjust="spacingAndGlyphs">Annapurna III</text>
<text x="592.7" y="712.7" font-size="17" fill="#2a3565" textLength="53.6" lengthAdjust="spacingAndGlyphs">7555m</text>
<text x="687.2" y="718.2" font-size="17" fill="#2a3565" textLength="99.8" lengthAdjust="spacingAndGlyphs">Annapurna II</text>
<text x="709.3" y="733.6" font-size="17" fill="#2a3565" textLength="54.2" lengthAdjust="spacingAndGlyphs">7973m</text>
<text x="370.8" y="732.8" font-size="17" fill="#2a3565" textLength="137.4" lengthAdjust="spacingAndGlyphs">Annapurna South</text>
<text x="414" y="748.6" font-size="17" fill="#2a3565" textLength="54" lengthAdjust="spacingAndGlyphs">7229m</text>
<text x="946.2" y="715.9" font-size="17" fill="#2a3565" textLength="82.4" lengthAdjust="spacingAndGlyphs">Dharapani</text>
<text x="962" y="732.3" font-size="17" fill="#2a3565" textLength="53.4" lengthAdjust="spacingAndGlyphs">1860m</text>
<text x="105" y="795" font-size="17" fill="#2a3565" textLength="66.6" lengthAdjust="spacingAndGlyphs">PoonHill</text>
<text x="257.9" y="821" font-size="17" fill="#2a3565" textLength="82" lengthAdjust="spacingAndGlyphs">Ghorepani</text>
<text x="889" y="813.8" font-size="17" fill="#2a3565" textLength="59" lengthAdjust="spacingAndGlyphs">Chamje</text>
<text x="892.2" y="830.8" font-size="17" fill="#2a3565" textLength="53" lengthAdjust="spacingAndGlyphs">1430m</text>
<text x="999" y="875.8" font-size="17" fill="#2a3565" textLength="41.6" lengthAdjust="spacingAndGlyphs">Jagat</text>
<text x="503.4" y="919.6" font-size="17" fill="#2a3565" textLength="78.2" lengthAdjust="spacingAndGlyphs">Ghandruk</text>
<text x="994" y="943.3" font-size="17" fill="#2a3565" textLength="56" lengthAdjust="spacingAndGlyphs">Syange</text>
<text x="971.3" y="1028" font-size="17" fill="#2a3565" textLength="98.8" lengthAdjust="spacingAndGlyphs">Bahundanda</text>
<text x="783.3" y="1098.7" font-size="17" fill="#2a3565" textLength="80.4" lengthAdjust="spacingAndGlyphs">Bhulbhule</text>
<text x="251.5" y="1137" font-size="17" fill="#2a3565" textLength="64" lengthAdjust="spacingAndGlyphs">Nayapul</text>
<text x="881.8" y="1164" font-size="17" fill="#2a3565" textLength="79.8" lengthAdjust="spacingAndGlyphs">Besi Sahar</text>
<text x="478" y="1189.5" font-size="17" fill="#2a3565" textLength="64" lengthAdjust="spacingAndGlyphs">Pokhara</text>
<text x="489" y="1205.8" font-size="17" fill="#2a3565" textLength="44" lengthAdjust="spacingAndGlyphs">820m</text>
<text x="210.8" y="1255.5" font-size="17" fill="#2a3565" textLength="35" lengthAdjust="spacingAndGlyphs">Beni</text>
<text x="1047" y="1377.5" font-size="17" fill="#2a3565" textLength="53.4" lengthAdjust="spacingAndGlyphs">1310m</text>
</g>
<path d="M116.3,1383 V1358 Q116.3,1354.5 120,1353.3 L200,1338.8 L281.5,1353.3 Q285.3,1354.5 285.3,1358 V1383" fill="none" stroke="#e8892b" stroke-width="3.8"/>
<text x="129.5" y="1377" font-size="24" fill="#2a3565" textLength="144.3" lengthAdjust="spacingAndGlyphs">Altitude Chart</text>
<g transform="translate(384.5,1425) scale(1.165)" opacity="0.9"><use href="#logoWi"/> <text x="207" y="83.9" font-size="34.4" font-weight="bold" fill="#e5e6eb" stroke="#e5e6eb" stroke-width="1.1" textLength="106.4" lengthAdjust="spacingAndGlyphs">NEPAL</text>
 <text x="207.3" y="117.1" font-size="34.4" font-weight="bold" fill="#e5e6eb" stroke="#e5e6eb" stroke-width="1.1" textLength="151.9" lengthAdjust="spacingAndGlyphs">GATEWAY</text>
 <text x="203.5" y="143.2" font-size="23" fill="#e5e6eb" textLength="220" lengthAdjust="spacingAndGlyphs">TREKKING PVT. LTD.</text>
</g>
<g stroke="#cfd0dc" stroke-width="1">
<path d="M127.5,1416 H1137"/>
<path d="M127.5,1455 H1137"/>
<path d="M127.5,1493.8 H1137"/>
<path d="M127.5,1532.5 H1137"/>
<path d="M127.5,1571.2 H1137"/>
<path d="M127.5,1609.6 H1137"/>
<path d="M216.6,1395.5 V1648.3"/>
<path d="M306.2,1395.5 V1648.3"/>
<path d="M395.9,1395.5 V1648.3"/>
<path d="M485.6,1395.5 V1648.3"/>
<path d="M575.2,1395.5 V1648.3"/>
<path d="M664.9,1395.5 V1648.3"/>
<path d="M754.5,1395.5 V1648.3"/>
<path d="M844.2,1395.5 V1648.3"/>
<path d="M933.8,1395.5 V1648.3"/>
<path d="M1023.5,1395.5 V1648.3"/>
<path d="M1113.1,1395.5 V1648.3"/>
</g>
<path d="M127.5,1599.3 L216.8,1598 L306.5,1548 L395.7,1518.3 L485.1,1511.7 L575,1511.7 L664.3,1494 L754,1478.4 L843.7,1442 L933.6,1618.5 L1023.7,1596.4 L1113.2,1596.4 L1135.8,1596.4 V1648.3 H127.5 Z" fill="#2b3a7e" fill-opacity="0.46"/>
<path d="M112.5,1395.4 H1136 M112.5,1648.3 H1136" stroke="#dc9850" stroke-width="1.2"/>
<rect x="112.5" y="1395.5" width="15" height="252.8" fill="#2b4590"/>
<circle cx="216.8" cy="1598" r="6.3" fill="#2b4590"/>
<circle cx="306.5" cy="1548" r="6.3" fill="#2b4590"/>
<circle cx="395.7" cy="1518.3" r="6.3" fill="#2b4590"/>
<circle cx="485.1" cy="1511.7" r="6.3" fill="#2b4590"/>
<circle cx="575" cy="1511.7" r="6.3" fill="#2b4590"/>
<circle cx="664.3" cy="1494" r="6.3" fill="#2b4590"/>
<circle cx="754" cy="1478.4" r="6.3" fill="#2b4590"/>
<circle cx="843.7" cy="1442" r="6.3" fill="#2b4590"/>
<circle cx="933.6" cy="1618.5" r="6.3" fill="#2b4590"/>
<circle cx="1023.7" cy="1596.4" r="6.3" fill="#2b4590"/>
<circle cx="1113.2" cy="1596.4" r="6.3" fill="#2b4590"/>
<g stroke="#2a3565" stroke-width="0.25">
<text x="216" y="1582.7" font-size="16.3" text-anchor="middle" fill="#2a3565" textLength="34" lengthAdjust="spacingAndGlyphs">1310</text>
<text x="306.5" y="1532.7" font-size="16.3" text-anchor="middle" fill="#2a3565" textLength="34" lengthAdjust="spacingAndGlyphs">2670</text>
<text x="395.7" y="1507" font-size="16.3" text-anchor="middle" fill="#2a3565" textLength="34" lengthAdjust="spacingAndGlyphs">3300</text>
<text x="485" y="1499.7" font-size="16.3" text-anchor="middle" fill="#2a3565" textLength="34" lengthAdjust="spacingAndGlyphs">3540</text>
<text x="575" y="1499.7" font-size="16.3" text-anchor="middle" fill="#2a3565" textLength="34" lengthAdjust="spacingAndGlyphs">3540</text>
<text x="664.3" y="1484.7" font-size="16.3" text-anchor="middle" fill="#2a3565" textLength="34" lengthAdjust="spacingAndGlyphs">4040</text>
<text x="754" y="1467.1" font-size="16.3" text-anchor="middle" fill="#2a3565" textLength="34" lengthAdjust="spacingAndGlyphs">4450</text>
<text x="843.7" y="1426.2" font-size="16.3" text-anchor="middle" fill="#2a3565" textLength="34" lengthAdjust="spacingAndGlyphs">5416</text>
<text x="943" y="1601.7" font-size="16.3" text-anchor="middle" fill="#2a3565" textLength="25.5" lengthAdjust="spacingAndGlyphs">820</text>
<text x="1021.4" y="1579.4" font-size="16.3" text-anchor="middle" fill="#2a3565" textLength="34" lengthAdjust="spacingAndGlyphs">1310</text>
<text x="1113.2" y="1579.4" font-size="16.3" text-anchor="middle" fill="#2a3565" textLength="34" lengthAdjust="spacingAndGlyphs">1310</text>
</g>
<text x="98.2" y="1421.7" font-size="16" text-anchor="end" fill="#35478a">6k</text>
<text x="98.2" y="1460.7" font-size="16" text-anchor="end" fill="#35478a">5k</text>
<text x="98.2" y="1499.5" font-size="16" text-anchor="end" fill="#35478a">4k</text>
<text x="98.2" y="1538.2" font-size="16" text-anchor="end" fill="#35478a">3k</text>
<text x="98.2" y="1576.9" font-size="16" text-anchor="end" fill="#35478a">2k</text>
<text x="98.2" y="1615.3" font-size="16" text-anchor="end" fill="#35478a">1k</text>
<text transform="translate(59.6,1597.5) rotate(-90)" font-size="17.5" fill="#35478a" textLength="122" lengthAdjust="spacingAndGlyphs">HEIGHT in Meters</text>
<text x="111" y="1667.5" font-size="15.6" fill="#35478a" textLength="37.5" lengthAdjust="spacingAndGlyphs">DAYS</text>
<text x="216.6" y="1668" font-size="15" text-anchor="middle" fill="#35478a">1</text>
<text x="306.2" y="1668" font-size="15" text-anchor="middle" fill="#35478a">2</text>
<text x="395.9" y="1668" font-size="15" text-anchor="middle" fill="#35478a">3</text>
<text x="485.6" y="1668" font-size="15" text-anchor="middle" fill="#35478a">4</text>
<text x="575.2" y="1668" font-size="15" text-anchor="middle" fill="#35478a">5</text>
<text x="664.9" y="1668" font-size="15" text-anchor="middle" fill="#35478a">6</text>
<text x="754.5" y="1668" font-size="15" text-anchor="middle" fill="#35478a">7</text>
<text x="844.2" y="1668" font-size="15" text-anchor="middle" fill="#35478a">8</text>
<text x="933.8" y="1668" font-size="15" text-anchor="middle" fill="#35478a">9</text>
<text x="1023.5" y="1668" font-size="15" text-anchor="middle" fill="#35478a">10</text>
<text x="1113.1" y="1668" font-size="15" text-anchor="middle" fill="#35478a">11</text>
<rect x="438.6" y="1711.6" width="321" height="31.8" rx="15.9" fill="#3a4a8e"/>
<text x="455" y="1732.2" font-size="19.5" fill="#ffffff" textLength="281.5" lengthAdjust="spacingAndGlyphs">www.nepalgatewaytrekking.com</text>
</svg>
</body></html>
